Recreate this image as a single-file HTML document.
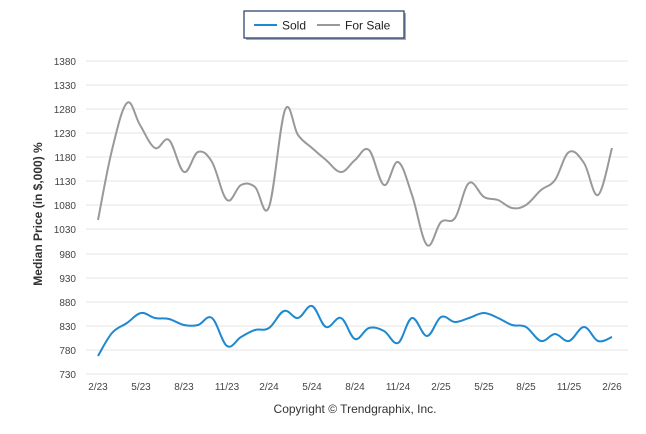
<!DOCTYPE html>
<html><head><style>body{margin:0;background:#fff}svg{display:block}</style></head><body>
<svg width="646" height="434" xmlns="http://www.w3.org/2000/svg" font-family="Liberation Sans, sans-serif">
<rect x="246" y="13" width="160" height="27" fill="#555" opacity="0.5"/>
<rect x="244" y="11" width="160" height="27" fill="#fff" stroke="#1d3a6a" stroke-width="1.2"/>
<line x1="254" y1="25" x2="277" y2="25" stroke="#1e88d0" stroke-width="2"/>
<text x="282" y="29.5" font-size="12" fill="#222">Sold</text>
<line x1="317" y1="25" x2="340" y2="25" stroke="#999" stroke-width="2"/>
<text x="345" y="29.5" font-size="12" fill="#222">For Sale</text>
<g stroke="#e6e6e6" stroke-width="1">
<line x1="86" x2="628" y1="61" y2="61"/><line x1="86" x2="628" y1="85" y2="85"/><line x1="86" x2="628" y1="109" y2="109"/><line x1="86" x2="628" y1="133" y2="133"/><line x1="86" x2="628" y1="157" y2="157"/><line x1="86" x2="628" y1="181" y2="181"/><line x1="86" x2="628" y1="205" y2="205"/><line x1="86" x2="628" y1="229" y2="229"/><line x1="86" x2="628" y1="254" y2="254"/><line x1="86" x2="628" y1="278" y2="278"/><line x1="86" x2="628" y1="302" y2="302"/><line x1="86" x2="628" y1="326" y2="326"/><line x1="86" x2="628" y1="350" y2="350"/><line x1="86" x2="628" y1="374" y2="374"/>
</g>
<g font-size="10" fill="#444" text-anchor="end">
<text x="76" y="65">1380</text><text x="76" y="89">1330</text><text x="76" y="113">1280</text><text x="76" y="137">1230</text><text x="76" y="161">1180</text><text x="76" y="185">1130</text><text x="76" y="209">1080</text><text x="76" y="233">1030</text><text x="76" y="258">980</text><text x="76" y="282">930</text><text x="76" y="306">880</text><text x="76" y="330">830</text><text x="76" y="354">780</text><text x="76" y="378">730</text>
</g>
<g font-size="10" fill="#444" text-anchor="middle">
<text x="98" y="390">2/23</text><text x="141" y="390">5/23</text><text x="184" y="390">8/23</text><text x="227" y="390">11/23</text><text x="269" y="390">2/24</text><text x="312" y="390">5/24</text><text x="355" y="390">8/24</text><text x="398" y="390">11/24</text><text x="441" y="390">2/25</text><text x="484" y="390">5/25</text><text x="526" y="390">8/25</text><text x="569" y="390">11/25</text><text x="612" y="390">2/26</text>
</g>
<text transform="translate(42,214) rotate(-90)" font-size="12" font-weight="bold" fill="#333" text-anchor="middle">Median Price (in $,000) %</text>
<text x="355" y="413" font-size="12" fill="#333" text-anchor="middle">Copyright © Trendgraphix, Inc.</text>
<path id="fs" fill="none" stroke="#999" stroke-width="2" stroke-linejoin="round" data-p="98,220 112,150 127,103 140,125 155,148 169,140 184,172 198,152 212,162 227,200 241,185 255,187 269,207 285,110 298,135 312,148 326,160 341,172 355,160 369,150 384,185 398,162 412,195 427,245 441,222 455,218 469,183 484,197 498,200 512,208 526,205 541,190 555,180 569,152 584,163 598,195 612,148"/>
<path id="sd" fill="none" stroke="#1e88d0" stroke-width="2" stroke-linejoin="round" data-p="98,356 112,333 127,323 141,313 155,318 169,319 184,325 198,325 212,318 227,346 241,337 255,330 269,328 284,311 298,318 312,306 326,327 341,318 355,339 369,328 384,331 398,343 412,318 427,336 441,317 455,322 469,318 484,313 498,318 512,325 526,327 541,341 555,334 569,341 584,327 598,341 612,337"/>
</svg>
<script>
document.querySelectorAll('path[data-p]').forEach(function(el){
var p=el.getAttribute('data-p').split(' ').map(function(s){return s.split(',').map(Number);});
var d='M'+p[0][0]+','+p[0][1];
for(var i=0;i<p.length-1;i++){
var p0=p[i-1]||p[i],p1=p[i],p2=p[i+1],p3=p[i+2]||p2,t=0.18;
var c1x=p1[0]+(p2[0]-p0[0])*t,c1y=p1[1]+(p2[1]-p0[1])*t;
var c2x=p2[0]-(p3[0]-p1[0])*t,c2y=p2[1]-(p3[1]-p1[1])*t;
d+=' C'+c1x+','+c1y+' '+c2x+','+c2y+' '+p2[0]+','+p2[1];
}
el.setAttribute('d',d);el.removeAttribute('data-p');
});
</script>
</body></html>
